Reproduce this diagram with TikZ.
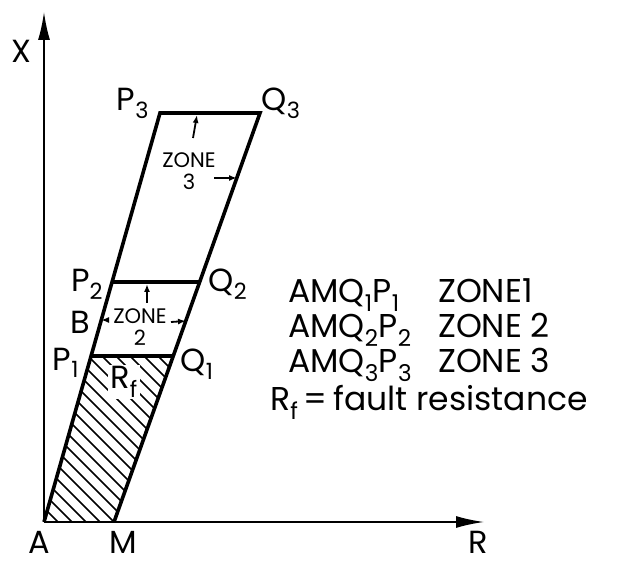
\documentclass[tikz,border=0pt]{standalone}
\usepackage{fontspec}
\setmainfont{Poppins}
\usepackage{tikz}
\usetikzlibrary{arrows.meta, positioning, calc}
\tikzset{
    axis/.style={-{Latex[length=28pt, width=12pt]}, line width=1.8pt},
    edge/.style={line width=3.6pt, line join=miter},
    hatch/.style={line width=1.6pt},
    zarrow/.style={-{Latex[length=8pt, width=6pt]}, line width=1.8pt},
    pt/.style={inner sep=0pt, font=\fontsize{32}{36}\selectfont},
    zonetxt/.style={inner sep=0pt, font=\fontsize{21}{22}\selectfont, align=center},
    legend/.style={inner sep=0pt, anchor=base west, font=\fontsize{33}{36}\selectfont}
}
\begin{document}
\begin{tikzpicture}[x=1pt, y=-1pt]
    \useasboundingbox (0,0) rectangle (627,561);
    % corner points of the zones
    \coordinate (A) at (44,522);
    \coordinate (M) at (114,522);
    \coordinate (P1) at (91,356);
    \coordinate (Q1) at (173,356);
    \coordinate (P2) at (112,282);
    \coordinate (Q2) at (200,282);
    \coordinate (P3) at (160,113);
    \coordinate (Q3) at (260,113);
    \coordinate (Xtip) at (44,12);
    \coordinate (Rtip) at (484,522);

    % hatched zone 1
    \begin{scope}
        \clip (A) -- (M) -- (Q1) -- (P1) -- cycle;
        \foreach \i in {-260,-246,...,200}
            \draw [hatch] (\i,330) -- ++(220,220);
    \end{scope}

    \draw [axis] (A) -- (Xtip);
    \draw [axis] (A) -- (Rtip);
    \draw [edge] (A) -- (P3) -- (Q3) -- (M);
    \draw [edge] (P1) -- (Q1);
    \draw [edge] (P2) -- (Q2);

    \node [pt] (x) at (21,51) {X};
    \node [pt] (r) at (478,542) {R};
    \node [pt] (a) at (39,542) {A};
    \node [pt] (m) at (123,542) {M};
    \node [pt] (p3) at (133,103) {P\textsubscript{3}};
    \node [pt] (q3) at (281,103) {Q\textsubscript{3}};
    \node [pt] (p2) at (87,284) {P\textsubscript{2}};
    \node [pt] (q2) at (228,284) {Q\textsubscript{2}};
    \node [pt] (b) at (80,322) {B};
    \node [pt] (p1) at (66,363) {P\textsubscript{1}};
    \node [pt] (q1) at (197,364) {Q\textsubscript{1}};
    \node [pt, fill=white, inner sep=2pt] (rf) at (124,382) {R\textsubscript{f}};

    \node [zonetxt] (z3) at (189,171) {ZONE\\3};
    \node [zonetxt] (z2) at (140,327) {ZONE\\2};

    % small zone arrows
    \coordinate (u3a) at (193,138);
    \coordinate (u3b) at (197,115);
    \coordinate (r3a) at (214,178);
    \coordinate (r3b) at (237,178);
    \coordinate (u2a) at (147,303);
    \coordinate (u2b) at (147,284);
    \coordinate (r2a) at (171,322);
    \coordinate (r2b) at (186,321);
    \coordinate (l2a) at (109,320);
    \coordinate (l2b) at (101,320);
    \draw [zarrow] (u3a) -- (u3b);
    \draw [zarrow] (r3a) -- (r3b);
    \draw [zarrow] (u2a) -- (u2b);
    \draw [zarrow] (r2a) -- (r2b);
    \draw [zarrow] (l2a) -- (l2b);

    % legend
    \node [legend] (l1) at (288,303) {AMQ\textsubscript{1}P\textsubscript{1}};
    \node [legend] (z1) at (438,303) {ZONE1};
    \node [legend] (l2) at (288,338) {AMQ\textsubscript{2}P\textsubscript{2}};
    \node [legend] (zz2) at (438,338) {ZONE 2};
    \node [legend] (l3) at (288,373) {AMQ\textsubscript{3}P\textsubscript{3}};
    \node [legend] (zz3) at (438,373) {ZONE 3};
    \node [legend] (l4) at (270,410) {R\textsubscript{f}\,=\,fault resistance};
\end{tikzpicture}
\end{document}
